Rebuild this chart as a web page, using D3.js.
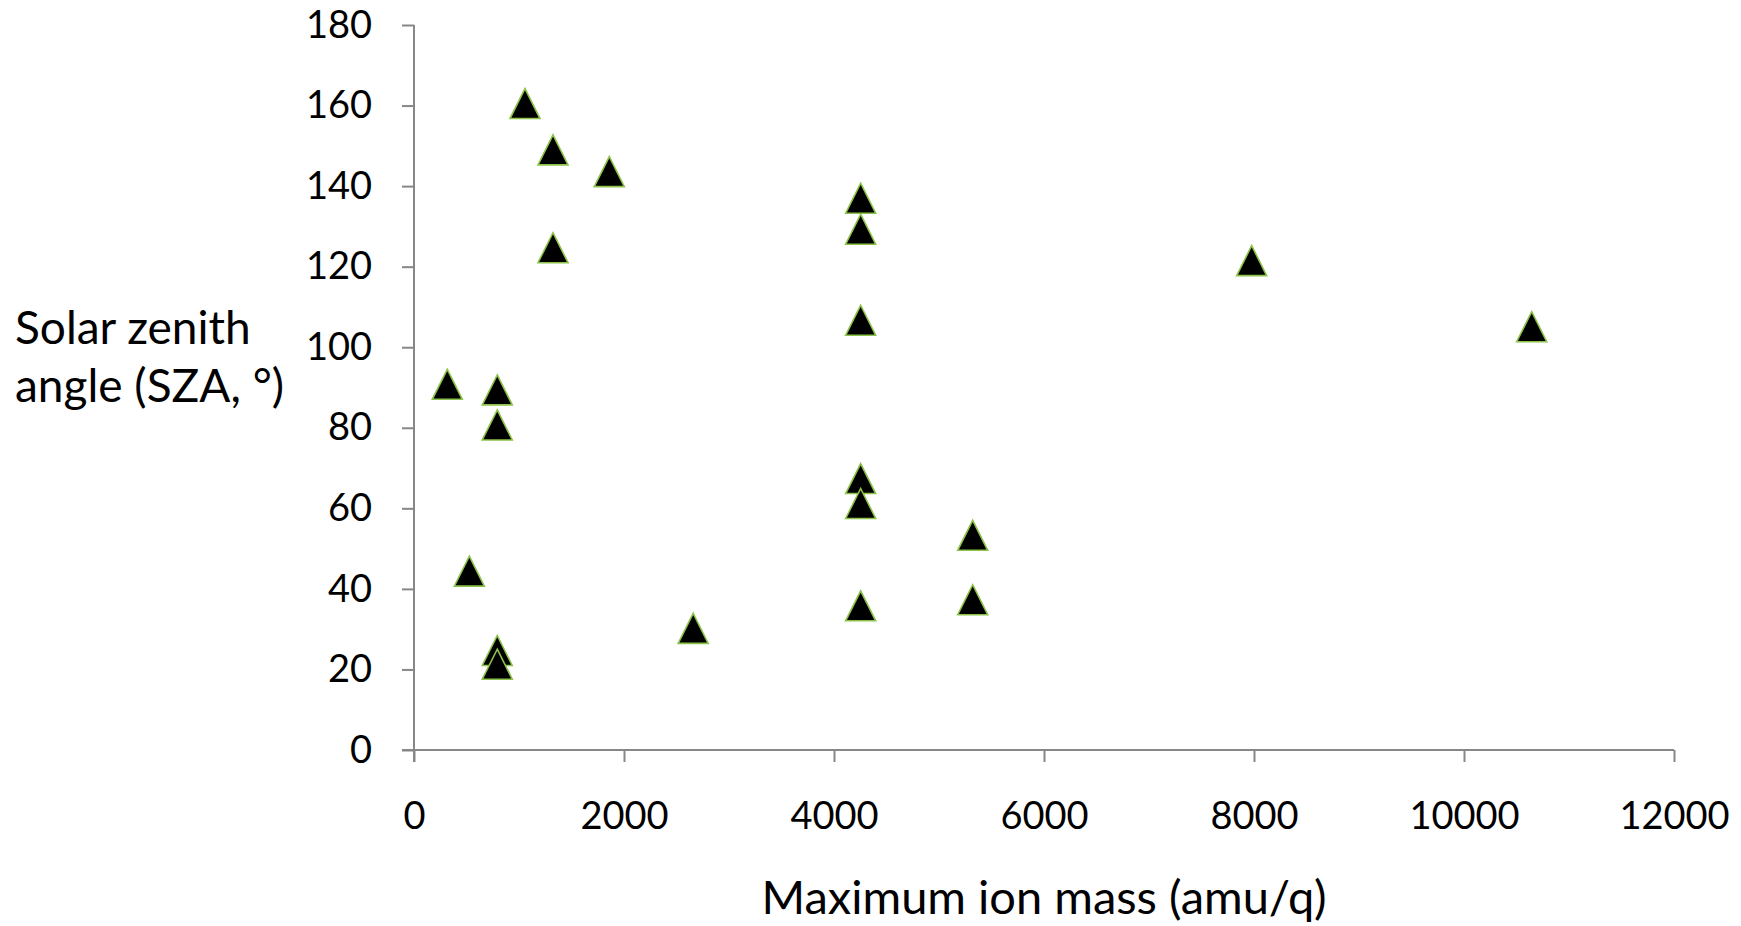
<!DOCTYPE html>
<html>
<head>
<meta charset="utf-8">
<script src="https://cdn.jsdelivr.net/npm/d3@7"></script>
<style>
  html, body { margin: 0; padding: 0; background: #fff; }
  svg { display: block; }
  text { font-family: Lato, "Open Sans", sans-serif; fill: #000; }
</style>
</head>
<body>
<svg id="chart" width="1741" height="926"></svg>
<script>
// Maximum ion mass (amu/q) per event
const ionMass = [317, 527, 793, 793, 793, 793, 1057, 1324, 1324, 1860, 2659,
                 4254, 4254, 4254, 4254, 4254, 4254, 5321, 5321, 7978, 10645];
// Solar zenith angle (degrees) per event
const sza = [90.8, 44.4, 89.4, 80.7, 24.7, 21.3, 160.5, 149, 124.7, 143.6, 30.2,
             137.0, 129.3, 106.7, 67.4, 61.2, 35.8, 53.3, 37.3, 121.5, 105.1];

const xTicks = [0, 2000, 4000, 6000, 8000, 10000, 12000];
const yTicks = [0, 20, 40, 60, 80, 100, 120, 140, 160, 180];

const xTitle = "Maximum ion mass (amu/q)";
const yTitleLines = ["Solar zenith", "angle (SZA, °)"];

const svg = d3.select("#chart");
const plotLeft = 414, plotRight = 1674, plotTop = 25, plotBottom = 750;

const x = d3.scaleLinear().domain([0, 12000]).range([plotLeft, plotRight]);
const y = d3.scaleLinear().domain([0, 180]).range([plotBottom, plotTop]);

const axisColor = "#878787";
const fmt = d3.format("d");

// Y axis
const gy = svg.append("g")
  .attr("transform", `translate(${plotLeft},0)`)
  .call(d3.axisLeft(y).tickValues(yTicks).tickFormat(fmt)
    .tickSize(12).tickPadding(30).tickSizeOuter(0));
// X axis
const gx = svg.append("g")
  .attr("transform", `translate(0,${plotBottom})`)
  .call(d3.axisBottom(x).tickValues(xTicks).tickFormat(fmt)
    .tickSize(12).tickPadding(40).tickSizeOuter(0));

[gx, gy].forEach(g => {
  g.select(".domain").attr("stroke", axisColor).attr("stroke-width", 2);
  g.selectAll(".tick line").attr("stroke", axisColor).attr("stroke-width", 2);
  g.selectAll(".tick text")
    .attr("font-family", "Lato, 'Open Sans', sans-serif")
    .attr("font-size", 38)
    .attr("fill", "#000");
});
// extend axis lines past the origin, as the 0 ticks do
gy.select(".domain").attr("d", `M0,${plotTop}V${plotBottom + 12}`);
gx.select(".domain").attr("d", `M${plotLeft - 12},0H${plotRight}`);

// Markers: black triangles with a light green edge
const tri = "M0,-15L15,15L-15,15Z";
svg.append("g")
  .selectAll("path")
  .data(ionMass.map((m, i) => [m, sza[i]]))
  .join("path")
  .attr("d", tri)
  .attr("transform", d => `translate(${x(d[0])},${y(d[1])})`)
  .attr("fill", "#000")
  .attr("stroke", "#8cc24a")
  .attr("stroke-width", 1.6)
  .attr("stroke-linejoin", "miter");

// Axis titles
svg.append("text")
  .attr("x", (plotLeft + plotRight) / 2).attr("y", 914)
  .attr("text-anchor", "middle")
  .attr("font-size", 47)
  .text(xTitle);

svg.append("g").selectAll("text")
  .data(yTitleLines)
  .join("text")
  .attr("x", 15)
  .attr("y", (d, i) => 344 + i * 58)
  .attr("font-size", 46)
  .text(d => d);
</script>
</body>
</html>
